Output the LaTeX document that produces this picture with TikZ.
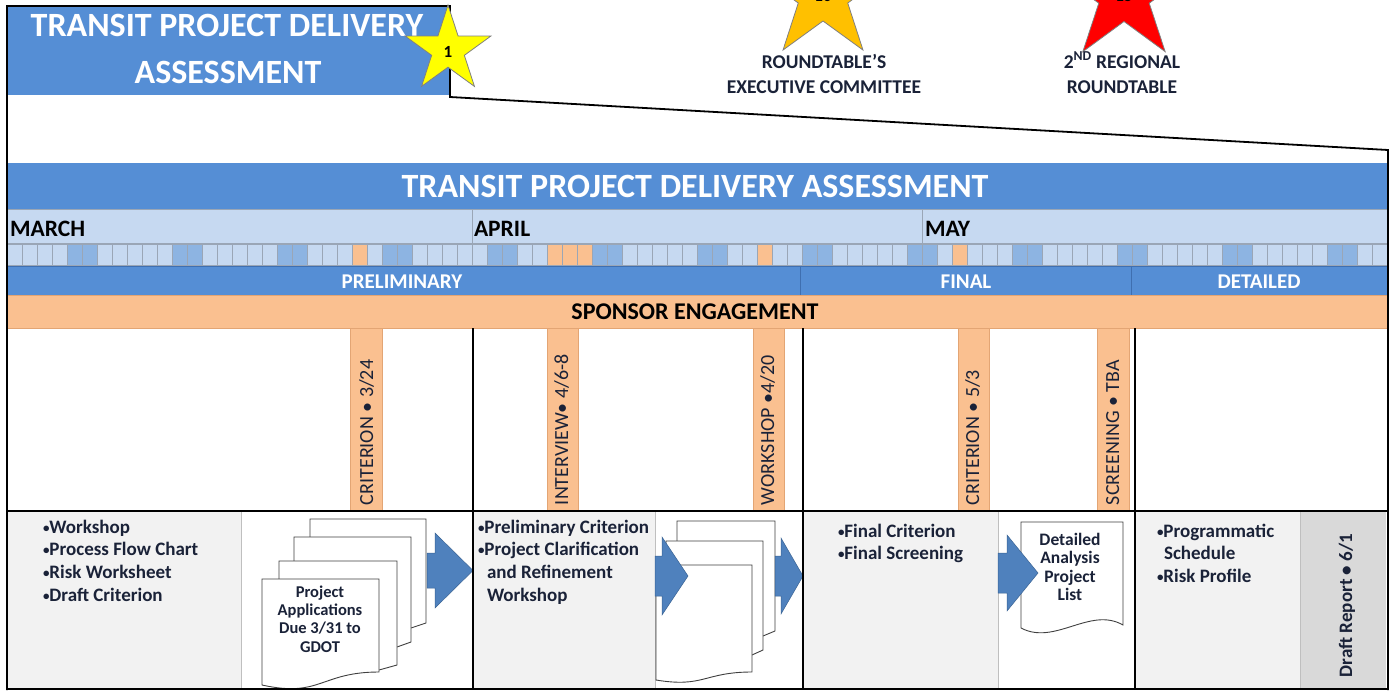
\documentclass[tikz,border=0pt]{standalone}
\usepackage{fontspec}
\setmainfont{Carlito}
\usetikzlibrary{calc}
\definecolor{blueA}{HTML}{558ED5}
\definecolor{blueEdge}{HTML}{3F6FB0}
\definecolor{lightB}{HTML}{C6D9F1}
\definecolor{darkB}{HTML}{8DB4E2}
\definecolor{cellEdge}{HTML}{9AA6B6}
\definecolor{orangeA}{HTML}{FAC090}
\definecolor{orangeEdge}{HTML}{E3A574}
\definecolor{grayA}{HTML}{F2F2F2}
\definecolor{grayB}{HTML}{D9D9D9}
\definecolor{grayLine}{HTML}{BFBFBF}
\definecolor{arrowB}{HTML}{4F81BD}
\definecolor{arrowEdge}{HTML}{3B6494}
\definecolor{ink}{HTML}{1A2238}
\definecolor{starY}{HTML}{FFFF00}
\definecolor{starO}{HTML}{FFC000}
\definecolor{starR}{HTML}{FF0000}
\definecolor{starEdge}{HTML}{808080}
\newcommand\bul{{\fontsize{13}{13}\selectfont\raisebox{0.6pt}{•}}}
\newcommand\starpoly[5]{%
 \filldraw[fill=#5, draw=starEdge, line width=0.8pt] ({#1},{#2-#3})
 \foreach \a/\rr in {126/#4,162/#3,198/#4,234/#3,270/#4,306/#3,342/#4,18/#3,54/#4}{ -- ({#1+\rr*cos(\a)},{#2-\rr*sin(\a)}) } -- cycle;}
\newcommand\backdoc[6]{% left top right yend xnext ynext
 \filldraw[docst] (#1,#2) -- (#3,#2) -- (#3,#4) -- (#5,#6) -- (#1,#6) -- cycle;}
\newcommand\frontdoc[5]{% left top right a b
 \filldraw[docst] (#1,#2) -- (#3,#2) -- (#3,#4) .. controls ({(#1+#3)/2},#4) and ({(#1+#3)/2},{#4+2*(#5-#4)}) .. (#1,#5) -- cycle;}
\newcommand\blockarrow[6]{% x0 xhead xtip yc halfbody halfhead
 \filldraw[arrowst] (#1,{#4-#5}) -- (#2,{#4-#5}) -- (#2,{#4-#6}) -- (#3,#4) -- (#2,{#4+#6}) -- (#2,{#4+#5}) -- (#1,{#4+#5}) -- cycle;}
\begin{document}
\begin{tikzpicture}[x=1pt,y=-1pt,
  txt/.style={inner sep=0pt, outer sep=0pt},
  titlef/.style={txt, text=white, font=\fontsize{34}{38}\selectfont\bfseries},
  monthf/.style={txt, text=black, font=\fontsize{23.5}{25}\selectfont\bfseries},
  phasef/.style={txt, text=white, font=\fontsize{21}{22}\selectfont\bfseries},
  sponsorf/.style={txt, text=black, font=\fontsize{24}{26}\selectfont\bfseries},
  vertf/.style={txt, text=ink, rotate=90, anchor=base west, font=\fontsize{20}{22}\selectfont},
  bulletf/.style={txt, text=ink, anchor=base west, font=\fontsize{19}{21}\selectfont\bfseries},
  docf/.style={txt, text=ink, anchor=base, font=\fontsize{16.5}{18}\selectfont\bfseries},
  docfb/.style={txt, text=ink, anchor=base, font=\fontsize{17.5}{19}\selectfont\bfseries},
  roundf/.style={txt, text=ink, anchor=base, font=\fontsize{19.5}{21}\selectfont\bfseries},
  starnum/.style={txt, text=black, font=\fontsize{17}{18}\selectfont\bfseries},
  cell/.style={draw=cellEdge, line width=0.5pt, minimum width=15pt, minimum height=21pt, inner sep=0pt, outer sep=0pt, anchor=north west},
  docst/.style={fill=white, draw=black!75, line width=0.9pt},
  arrowst/.style={fill=arrowB, draw=arrowEdge, line width=0.5pt},
  evbar/.style={fill=orangeA, draw=orangeEdge, line width=0.6pt},
  frame/.style={draw=black, line width=1.8pt},
  sect/.style={draw=black, line width=1.5pt}]
\useasboundingbox (0,0) rectangle (1392,693);
\clip (0,0) rectangle (1392,693);
\fill[white] (0,0) rectangle (1392,693);

% ---------- callout title ----------
\fill[blueA] (7,7) rectangle (449,95);
\node[titlef, anchor=base] (tt1) at (227,37) {TRANSIT PROJECT DELIVERY};
\node[titlef, anchor=base] (tt2) at (228,83) {ASSESSMENT};

% ---------- stars ----------
\starpoly{823}{-5}{68}{26}{starO}
\starpoly{1124}{-5}{70}{26.5}{starR}
\node[starnum] (s10) at (823,-4) {10};
\node[starnum] (s15) at (1124,-4) {15};
\node[roundf] (r1a) at (824,68) {ROUNDTABLE’S};
\node[roundf] (r1b) at (824,93) {EXECUTIVE COMMITTEE};
\node[roundf] (r2a) at (1122,68) {2\textsuperscript{ND} REGIONAL};
\node[roundf] (r2b) at (1122,93) {ROUNDTABLE};

% ---------- main title bar ----------
\fill[blueA] (7,163) rectangle (1388,209);
\node[titlef, anchor=base] (mt) at (695,197) {TRANSIT PROJECT DELIVERY ASSESSMENT};

% ---------- months ----------
\filldraw[fill=lightB, draw=cellEdge, line width=0.6pt] (7,209) rectangle (472,243);
\filldraw[fill=lightB, draw=cellEdge, line width=0.6pt] (472,209) rectangle (922,243);
\filldraw[fill=lightB, draw=cellEdge, line width=0.6pt] (922,209) rectangle (1388,243);
\node[monthf, anchor=base west] (mar) at (10,236) {MARCH};
\node[monthf, anchor=base west] (apr) at (474,236) {APRIL};
\node[monthf, anchor=base west] (may) at (925,236) {MAY};

% ---------- days ----------
\fill[lightB] (7,244) rectangle (1388,265);
\foreach \d in {1,...,92}{
  \pgfmathtruncatemacro\m{mod(\d,7)}
  \def\col{lightB}
  \ifnum\m=5 \def\col{darkB}\fi
  \ifnum\m=6 \def\col{darkB}\fi
  \ifnum\d=24 \def\col{orangeA}\fi
  \ifnum\d=37 \def\col{orangeA}\fi
  \ifnum\d=38 \def\col{orangeA}\fi
  \ifnum\d=39 \def\col{orangeA}\fi
  \ifnum\d=51 \def\col{orangeA}\fi
  \ifnum\d=64 \def\col{orangeA}\fi
  \node[cell, fill=\col] (d\d) at ({7+15*(\d-1)},244) {};
}

% ---------- phases ----------
\filldraw[fill=blueA, draw=blueEdge, line width=0.8pt] (7,266) rectangle (800,295);
\filldraw[fill=blueA, draw=blueEdge, line width=0.8pt] (800,266) rectangle (1131,295);
\filldraw[fill=blueA, draw=blueEdge, line width=0.8pt] (1131,266) rectangle (1388,295);
\node[phasef, anchor=base] (pre) at (402,288) {PRELIMINARY};
\node[phasef, anchor=base] (fin) at (966,288) {FINAL};
\node[phasef, anchor=base] (det) at (1259,288) {DETAILED};

% ---------- sponsor ----------
\filldraw[fill=orangeA, draw=orangeEdge, line width=0.6pt] (7,295) rectangle (1388,328);
\node[sponsorf, anchor=base] (sp) at (695,319) {SPONSOR ENGAGEMENT};

% ---------- event bars ----------
\filldraw[evbar] (350,328) rectangle (382,510);
\filldraw[evbar] (547,328) rectangle (578,510);
\filldraw[evbar] (753,328) rectangle (784,510);
\filldraw[evbar] (958,328) rectangle (989,510);
\filldraw[evbar] (1097,328) rectangle (1129,510);
\node[vertf] (e1) at (373,505) {CRITERION • 3/24};
\node[vertf] (e2) at (568,505) {INTERVIEW• 4/6-8};
\node[vertf] (e3) at (774,505) {WORKSHOP •4/20};
\node[vertf] (e4) at (979,505) {CRITERION • 5/3};
\node[vertf] (e5) at (1119,505) {SCREENING • TBA};

% ---------- bottom panels ----------
\fill[grayA] (7,511) rectangle (241,688);
\fill[grayA] (473,511) rectangle (655,688);
\fill[grayA] (803,511) rectangle (998,688);
\fill[grayA] (1135,511) rectangle (1300,688);
\fill[grayB] (1300,511) rectangle (1386,688);
\draw[grayLine, line width=0.8pt] (241,511) -- (241,688);
\draw[grayLine, line width=0.8pt] (655,511) -- (655,688);
\draw[grayLine, line width=0.8pt] (998,511) -- (998,688);
\draw[grayLine, line width=0.8pt] (1300,511) -- (1300,688);

% section 1 text
\node[bulletf] (b11) at (43,533) {\bul Workshop};
\node[bulletf] (b12) at (43,555) {\bul Process Flow Chart};
\node[bulletf] (b13) at (43,578) {\bul Risk Worksheet};
\node[bulletf] (b14) at (43,601) {\bul Draft Criterion};
% section 1 docs
\backdoc{310}{519}{426}{623}{411}{628}
\backdoc{294}{537}{411}{642}{397}{647}
\backdoc{279}{561}{397}{665}{379}{670}
\frontdoc{262}{579}{379}{672}{685}
\node[docf] (dA1) at (320,597) {Project};
\node[docf] (dA2) at (320,615) {Applications};
\node[docf] (dA3) at (320,633) {Due 3/31 to};
\node[docf] (dA4) at (320,652) {GDOT};
\blockarrow{427}{435}{473}{570.5}{17.5}{37.5}

% section 2
\node[bulletf] (b21) at (478,533) {\bul Preliminary Criterion};
\node[bulletf] (b22) at (478,555) {\bul Project Clarification};
\node[bulletf] (b23) at (487,578) {and Refinement};
\node[bulletf] (b24) at (487,601) {Workshop};
\backdoc{677}{521}{775}{631}{763}{636}
\backdoc{666}{541}{763}{650}{752}{655}
\frontdoc{656}{565}{752}{672}{680}
\blockarrow{655}{662}{688}{576}{20}{39}
\blockarrow{775}{781}{803}{576}{20}{38}

% section 3
\node[bulletf] (b31) at (838,537) {\bul Final Criterion};
\node[bulletf] (b32) at (838,559) {\bul Final Screening};
\filldraw[docst] (1021,522) -- (1123,522) -- (1123,625) .. controls (1090,606) and (1055,646) .. (1021,628) -- cycle;
\node[docfb] (dB1) at (1070,545) {Detailed};
\node[docfb] (dB2) at (1070,563.5) {Analysis};
\node[docfb] (dB3) at (1070,582) {Project};
\node[docfb] (dB4) at (1070,600.5) {List};
\blockarrow{998}{1007}{1038}{573}{20}{38}

% section 4
\node[bulletf] (b41) at (1157,537) {\bul Programmatic};
\node[bulletf] (b42) at (1164,559) {Schedule};
\node[bulletf] (b43) at (1157,582) {\bul Risk Profile};
\node[vertf, font=\fontsize{19}{20}\selectfont\bfseries] (dr) at (1352,677) {Draft Report • 6/1};

% ---------- section lines and frame ----------
\draw[sect] (7,511) -- (1388,511);
\draw[sect] (473,328) -- (473,688);
\draw[sect] (803,328) -- (803,688);
\draw[sect] (1135,328) -- (1135,688);
\draw[frame] (7,689) -- (1388,689);
\draw[frame] (7,690) -- (7,6) -- (450,6) -- (450,97) -- (1388,150) -- (1388,690);

% ---------- star 1 ----------
\starpoly{448}{50}{45}{17.2}{starY}
\node[starnum] (s1) at (448,52) {1};
\end{tikzpicture}
\end{document}
